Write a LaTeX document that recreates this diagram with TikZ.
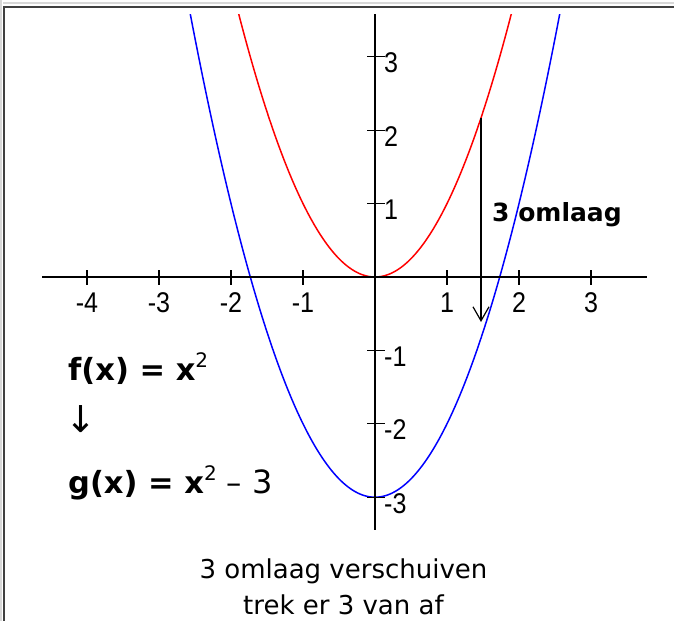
\documentclass[tikz,border=0pt]{standalone}
\usepackage{fontspec}
\setmainfont{DejaVu Sans}
\newfontfamily\axisfont[FakeStretch=0.88]{Liberation Sans}
\usetikzlibrary{arrows.meta}
\definecolor{framelight}{RGB}{216,216,216}
\definecolor{framedark}{RGB}{64,64,64}
\begin{document}
\begin{tikzpicture}[x=1pt,y=-1pt,
  axisline/.style={line width=1.4pt, black},
  tickmark/.style={line width=1.2pt, black},
  ticklabel/.style={font=\axisfont\fontsize{28.5}{28.5}\selectfont, inner sep=0pt},
  formula/.style={font=\fontsize{30.5}{30.5}\selectfont, inner sep=0pt, anchor=base west},
  caption/.style={font=\fontsize{26}{26}\selectfont, inner sep=0pt, anchor=base},
  curve/.style={line width=1.5pt},
  shiftarrow/.style={line width=1.2pt, -{Straight Barb[length=14pt,width=16pt,line width=1.2pt]}}]
\useasboundingbox (0,0) rectangle (674,621);
\fill[white] (0,0) rectangle (674,621);
% frame
\fill[framelight] (0,0) rectangle (2,621);
\fill[framelight] (3,2) rectangle (674,3.5);
\fill[framedark] (3,6) rectangle (674,8);
\fill[framedark] (3,6) rectangle (5,621);
% curves
\begin{scope}
\clip (0,14) rectangle (674,560);
\draw[curve, red] plot[domain=-1.9:1.9, samples=120] ({375+72*\x},{277-73.4*\x*\x});
\draw[curve, blue] plot[domain=-2.58:2.58, samples=160] ({375+72*\x},{277-73.4*(\x*\x-3)});
\end{scope}
% axes
\coordinate (xl) at (42,277);
\coordinate (xr) at (647,277);
\coordinate (yt) at (375,14);
\coordinate (yb) at (375,530);
\draw[axisline] (xl) -- (xr);
\draw[axisline] (yt) -- (yb);
% x ticks
\foreach \k/\lab in {-4/-4,-3/-3,-2/-2,-1/-1,1/1,2/2,3/3} {
  \draw[tickmark] ({375+72*\k},270) -- ({375+72*\k},285);
  \node[ticklabel, anchor=base] (xlab\k) at ({375+72*\k},312) {\lab};
}
% y ticks
\foreach \k/\lab in {3/3,2/2,1/1,-1/-1,-2/-2,-3/-3} {
  \draw[tickmark] (367,{277-73.4*\k}) -- (385,{277-73.4*\k});
  \node[ticklabel, anchor=base west] (ylab\k) at (384,{277-73.4*\k+16}) {\lab};
}
% shift arrow
\coordinate (atop) at (481,118);
\coordinate (atip) at (481,322);
\draw[shiftarrow] (atop) -- (atip);
\node[inner sep=0pt, anchor=base west, font=\bfseries\fontsize{25}{25}\selectfont] (lbl) at (492,221) {3 omlaag};
% formulas
\node[formula] (f) at (68,380) {\textbf{f(x) = x}\raisebox{13pt}{\fontsize{20}{20}\selectfont 2}};
\node[inner sep=0pt, anchor=base west, font=\fontsize{37}{37}\selectfont] (down) at (65,432) {↓};
\node[formula] (g) at (68,493) {\textbf{g(x) = x}\raisebox{13pt}{\fontsize{20}{20}\selectfont 2}\hspace{10pt}–\hspace{10pt}{\fontsize{32}{32}\selectfont 3}};
% caption
\node[caption] (c1) at (343.5,578) {3 omlaag verschuiven};
\node[caption] (c2) at (343.5,614) {trek er 3 van af};
\end{tikzpicture}
\end{document}
